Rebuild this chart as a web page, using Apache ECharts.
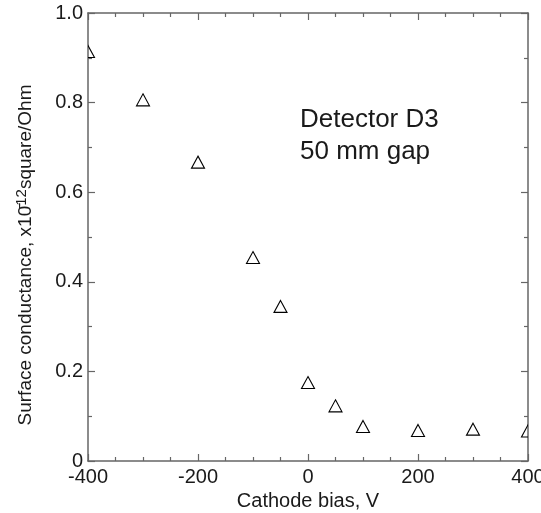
<!DOCTYPE html>
<html>
<head>
<meta charset="utf-8">
<script src="https://cdn.jsdelivr.net/npm/echarts@6/dist/echarts.min.js"></script>
<style>
  html, body { margin: 0; padding: 0; background: #fff; }
  #chart { width: 541px; height: 513px; }
</style>
</head>
<body>
<div id="chart"></div>
<script>
// cathode bias (V) and surface conductance (x10^-12 square/Ohm)
const biasV = [-400, -300, -200, -100, -50, 0, 50, 100, 200, 300, 400];
const conductance = [0.913, 0.805, 0.666, 0.453, 0.344, 0.174, 0.122, 0.076, 0.067, 0.07, 0.066];
const xTicks = [-400, -200, 0, 200, 400];
const yTicks = [0, 0.2, 0.4, 0.6, 0.8, 1.0];
const noteLines = ['Detector D3', '50 mm gap'];

const chart = echarts.init(document.getElementById('chart'));

const font = 'Liberation Sans, Arial, sans-serif';
const ink = '#1a1a1a';
const axisGray = '#666';

const frameX = (pos, showLabel) => ({
  type: 'value',
  position: pos,
  min: xTicks[0],
  max: xTicks[xTicks.length - 1],
  interval: 200,
  axisLine: { show: true, onZero: false, lineStyle: { color: axisGray, width: 1.5 } },
  axisTick: { show: true, inside: true, length: 7, lineStyle: { color: axisGray, width: 1.2 } },
  minorTick: { show: true, splitNumber: 4, length: 4, lineStyle: { color: axisGray, width: 1.2 } },
  splitLine: { show: false },
  minorSplitLine: { show: false },
  axisLabel: {
    show: showLabel,
    color: ink,
    fontFamily: font,
    fontSize: 20,
    margin: 6,
    formatter: (v) => (xTicks.includes(v) ? String(v) : '')
  }
});

const frameY = (pos, showLabel) => ({
  type: 'value',
  position: pos,
  min: yTicks[0],
  max: yTicks[yTicks.length - 1],
  interval: 0.2,
  axisLine: { show: true, onZero: false, lineStyle: { color: axisGray, width: 1.5 } },
  axisTick: { show: true, inside: true, length: 7, lineStyle: { color: axisGray, width: 1.2 } },
  minorTick: { show: true, splitNumber: 2, length: 4, lineStyle: { color: axisGray, width: 1.2 } },
  splitLine: { show: false },
  minorSplitLine: { show: false },
  axisLabel: {
    show: showLabel,
    color: ink,
    fontFamily: font,
    fontSize: 20,
    margin: 5,
    formatter: (v) => (v === 0 ? '0' : v.toFixed(1))
  }
});

const xMain = frameX('bottom', true);
xMain.name = 'Cathode bias, V';
xMain.nameLocation = 'middle';
xMain.nameGap = 24;
xMain.nameTextStyle = { color: ink, fontFamily: font, fontSize: 20 };

const yMain = frameY('left', true);
// the minus sits over the 0 in the original, so use a combining macron
yMain.name = 'Surface conductance, x10\u0304{sup|12}square/Ohm';
yMain.nameLocation = 'middle';
yMain.nameGap = 50;
yMain.nameTextStyle = {
  color: ink,
  fontFamily: font,
  fontSize: 19,
  padding: [0, 36, 0, 0],
  rich: {
    sup: { fontSize: 15, fontFamily: font, color: ink, verticalAlign: 'bottom', padding: [0, 0, 9, 0] }
  }
};

// hollow triangle, clipped by the plot frame like the original
const triangle = (params, api) => {
  const p = api.coord([api.value(0), api.value(1)]);
  return {
    type: 'polygon',
    shape: { points: [[p[0], p[1] - 6.5], [p[0] + 6.5, p[1] + 5.5], [p[0] - 6.5, p[1] + 5.5]] },
    style: { fill: 'none', stroke: '#000', lineWidth: 1.1 }
  };
};

const option = {
  backgroundColor: '#fff',
  animation: false,
  grid: { left: 88, right: 13, top: 13, bottom: 52, containLabel: false, outerBoundsMode: 'none' },
  xAxis: [xMain, frameX('top', false)],
  yAxis: [yMain, frameY('right', false)],
  graphic: [
    {
      type: 'text',
      left: 300,
      top: 104,
      style: {
        text: noteLines.join('\n'),
        font: '26px ' + font,
        fill: ink,
        lineHeight: 32
      }
    }
  ],
  series: [
    {
      type: 'custom',
      clip: true,
      data: biasV.map((x, i) => [x, conductance[i]]),
      renderItem: triangle
    }
  ]
};

chart.setOption(option);
window.addEventListener('resize', chart.resize);
</script>
</body>
</html>
